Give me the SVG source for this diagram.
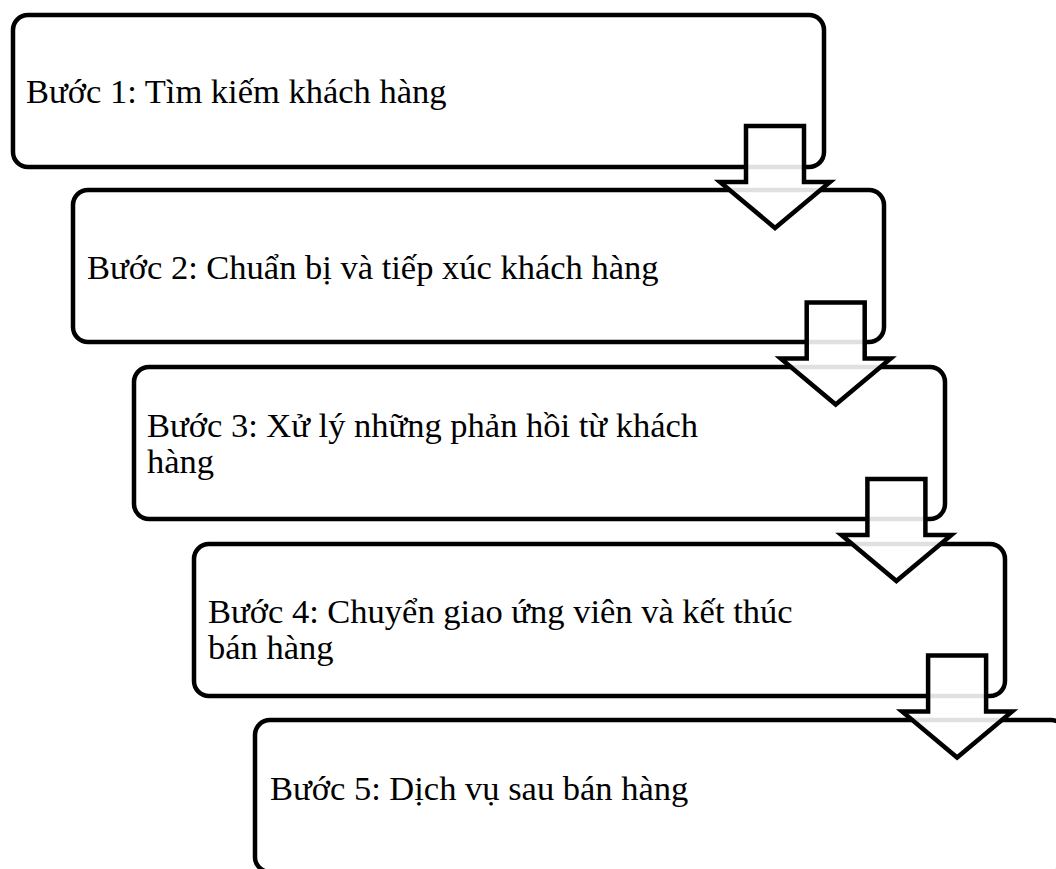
<svg xmlns="http://www.w3.org/2000/svg" width="1056" height="869" viewBox="0 0 1056 869">
<style>
.box{fill:#fff;stroke:#000;stroke-width:4.5}
.arr{fill:#fff;fill-opacity:0.88;stroke:#000;stroke-width:4.5;stroke-linejoin:miter}
.t{font-family:"Liberation Serif","Times New Roman",serif;font-size:34.5px;fill:#000}
</style>
<defs>
<polygon id="arrow" class="arr" points="746,126 804,126 804,182 830,182 775,228 720,182 746,182"/>
</defs>
<rect width="1056" height="869" fill="#fff"/>
<g id="node1">
<rect class="box" x="13" y="15" width="811" height="152" rx="15"/>
<text class="t" x="26" y="103">Bước 1: Tìm kiếm khách hàng</text>
</g>
<g id="node2">
<rect class="box" x="73" y="190" width="811" height="152" rx="15"/>
<text class="t" x="87" y="279">Bước 2: Chuẩn bị và tiếp xúc khách hàng</text>
</g>
<g id="node3">
<rect class="box" x="134" y="367" width="811" height="152" rx="15"/>
<text class="t" x="147" y="437">Bước 3: Xử lý những phản hồi từ khách</text>
<text class="t" x="147" y="473">hàng</text>
</g>
<g id="node4">
<rect class="box" x="194" y="544" width="811" height="152" rx="15"/>
<text class="t" x="208" y="623">Bước 4: Chuyển giao ứng viên và kết thúc</text>
<text class="t" x="208" y="659">bán hàng</text>
</g>
<g id="node5">
<rect class="box" x="255" y="720" width="811" height="152" rx="15"/>
<text class="t" x="270" y="800">Bước 5: Dịch vụ sau bán hàng</text>
</g>
<g id="connectors">
<use href="#arrow"/>
<use href="#arrow" transform="translate(60.7,176.5)"/>
<use href="#arrow" transform="translate(121.4,353)"/>
<use href="#arrow" transform="translate(182.1,529.5)"/>
</g>
</svg>
